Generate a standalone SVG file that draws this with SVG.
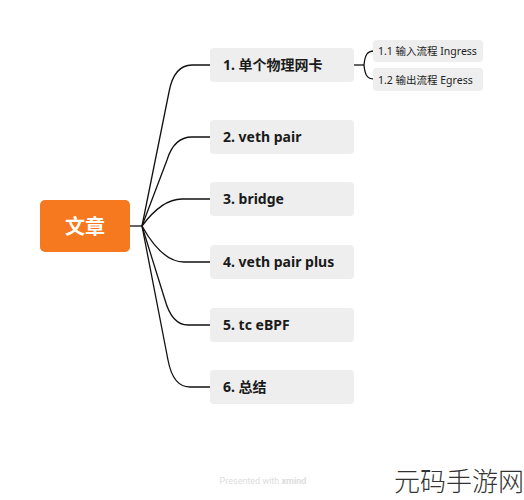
<svg xmlns="http://www.w3.org/2000/svg" width="524" height="500" viewBox="0 0 524 500">
<style>
.box{fill:#eeeeee}
.sub{fill:#eeeeee}
.t{font-family:"Noto Sans","Noto Sans CJK SC",sans-serif;font-weight:700;font-size:14px;fill:#1a1a1a}
.st{font-family:"Noto Sans","Noto Sans CJK SC",sans-serif;font-size:10.5px;fill:#222}
.c{fill:none;stroke:#111;stroke-width:1.3}
</style>
<rect width="524" height="500" fill="#ffffff"/>
<g id="connectors">
<path class="c" d="M130,226 H142"/>
<path class="c" d="M142,226 L169,92 Q174,65 192,65 H210"/>
<path class="c" d="M142,226 L167,160 Q174,137 192,137 H210"/>
<path class="c" d="M142,226 Q162,199 182,199 H210"/>
<path class="c" d="M142,226 Q162,262 184,262 H210"/>
<path class="c" d="M142,226 L165,300 Q172,325 188,325 H210"/>
<path class="c" d="M142,226 L168,360 Q173,387 190,387 H210"/>
<path class="c" d="M354,65 H364"/>
<path class="c" d="M364,65 C365,55 367,51 374,51"/>
<path class="c" d="M364,65 C365,75 367,79 374,79"/>
</g>
<g id="root">
<rect x="40" y="200" width="90" height="52" rx="5" fill="#f6791f"/>
<text x="85" y="234" text-anchor="middle" font-family="Noto Sans CJK SC,sans-serif" font-weight="700" font-size="20" fill="#ffffff">文章</text>
</g>
<g id="n1"><rect class="box" x="210" y="48" width="144" height="34" rx="4"/><text class="t" x="223" y="70">1. 单个物理网卡</text></g>
<g id="n11"><rect class="sub" x="373" y="40" width="110" height="22" rx="4"/><text class="st" x="378" y="55">1.1 输入流程 Ingress</text></g>
<g id="n12"><rect class="sub" x="373" y="68" width="110" height="23" rx="4"/><text class="st" x="378" y="84">1.2 输出流程 Egress</text></g>
<g id="n2"><rect class="box" x="210" y="120" width="144" height="34" rx="4"/><text class="t" x="223" y="142">2. veth pair</text></g>
<g id="n3"><rect class="box" x="210" y="182" width="144" height="34" rx="4"/><text class="t" x="223" y="204">3. bridge</text></g>
<g id="n4"><rect class="box" x="210" y="245" width="144" height="34" rx="4"/><text class="t" x="223" y="267">4. veth pair plus</text></g>
<g id="n5"><rect class="box" x="210" y="308" width="144" height="34" rx="4"/><text class="t" x="223" y="330">5. tc eBPF</text></g>
<g id="n6"><rect class="box" x="210" y="370" width="144" height="34" rx="4"/><text class="t" x="223" y="392">6. 总结</text></g>
<text x="263" y="484" text-anchor="middle" font-family="Roboto,sans-serif" font-size="9" fill="#dddddd">Presented with <tspan font-weight="700">xmind</tspan></text>
<text x="459" y="491" text-anchor="middle" font-family="Noto Sans CJK SC,sans-serif" font-weight="300" font-size="26" fill="#333333">元码手游网</text>
</svg>
